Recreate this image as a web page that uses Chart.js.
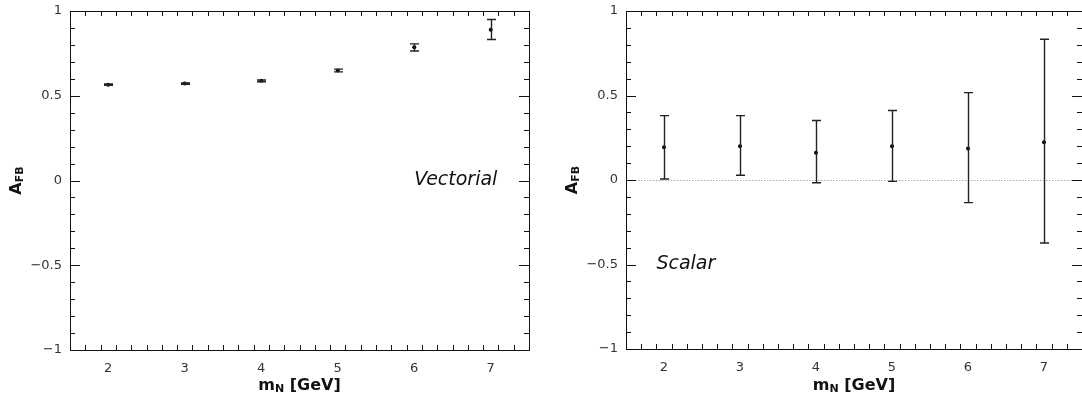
<!DOCTYPE html>
<html lang="en">
<head>
    <meta charset="UTF-8">
    <title>A_FB vs m_N</title>
    <script src="https://cdn.jsdelivr.net/npm/chart.js@4.4.0/dist/chart.umd.min.js"></script>
    <style>
        body { margin: 0; background: #fff; overflow: hidden; }
        .panel { position: absolute; top: 0; height: 403px; }
    </style>
</head>
<body>
    <div class="panel" style="left: 0; width: 541px;"><canvas id="vecChart" width="541" height="403"></canvas></div>
    <div class="panel" style="left: 541px; width: 545px;"><canvas id="scaChart" width="545" height="403"></canvas></div>

    <script>
        // data
        const masses = [2, 3, 4, 5, 6, 7];
        const xTickVals = [2, 3, 4, 5, 6, 7];
        const yTickVals = [-1, -0.5, 0, 0.5, 1];

        const vecAfb = [0.565, 0.572, 0.588, 0.649, 0.786, 0.890];
        const vecErrUp = [0.004, 0.004, 0.005, 0.008, 0.020, 0.060];
        const vecErrDown = [0.004, 0.004, 0.005, 0.008, 0.022, 0.058];

        const scaAfb = [0.194, 0.200, 0.161, 0.200, 0.187, 0.224];
        const scaErrUp = [0.187, 0.181, 0.191, 0.211, 0.330, 0.609];
        const scaErrDown = [0.188, 0.172, 0.177, 0.208, 0.321, 0.597];

        const FONT = '"DejaVu Sans", sans-serif';

        function fmt(v) {
            return v < 0 ? '\u2212' + Math.abs(v) : String(v);
        }

        // frame with inward ticks on all four sides
        const framePlugin = {
            id: 'frame',
            afterDraw(chart) {
                const ctx = chart.ctx, a = chart.chartArea;
                const xs = chart.scales.x, ys = chart.scales.y;
                ctx.save();
                ctx.strokeStyle = '#111';
                ctx.lineWidth = 1;
                ctx.beginPath();
                for (let i = 0; i <= 30; i++) {
                    const v = 1.5 + i * 0.2;
                    if (v <= 1.5 || v >= 7.5) continue;
                    const major = Math.abs(v - Math.round(v)) < 1e-6;
                    const len = major ? 10 : 5;
                    const px = Math.round(xs.getPixelForValue(v)) + 0.5;
                    ctx.moveTo(px, a.bottom); ctx.lineTo(px, a.bottom - len);
                    ctx.moveTo(px, a.top); ctx.lineTo(px, a.top + len);
                }
                for (let i = 1; i < 20; i++) {
                    const v = -1 + i * 0.1;
                    const major = i % 5 === 0;
                    const len = major ? 10 : 5;
                    const py = Math.round(ys.getPixelForValue(v)) + 0.5;
                    ctx.moveTo(a.left, py); ctx.lineTo(a.left + len, py);
                    ctx.moveTo(a.right, py); ctx.lineTo(a.right - len, py);
                }
                ctx.stroke();
                ctx.strokeRect(Math.round(a.left) + 0.5, Math.round(a.top) + 0.5,
                    Math.round(a.right - a.left), Math.round(a.bottom - a.top));

                // axis titles with subscripts
                ctx.fillStyle = '#111';
                ctx.textBaseline = 'middle';
                drawSub(ctx, 'm', 'N', ' [GeV]', (a.left + a.right) / 2, 386);
                ctx.translate(a.left - 53, (a.top + a.bottom) / 2);
                ctx.rotate(-Math.PI / 2);
                drawSub(ctx, 'A', 'FB', '', 0, 0);
                ctx.restore();

                // annotation
                const note = chart.options.plugins.note;
                ctx.save();
                ctx.font = 'italic 19px ' + FONT;
                ctx.fillStyle = '#111';
                ctx.textBaseline = 'middle';
                ctx.textAlign = 'left';
                ctx.fillText(note.text, xs.getPixelForValue(note.x), ys.getPixelForValue(note.y));
                ctx.restore();
            }
        };

        function drawSub(ctx, main, sub, rest, cx, cy) {
            const big = 'bold 16px ' + FONT, small = 'bold 11px ' + FONT;
            ctx.font = big;
            const w1 = ctx.measureText(main).width, w3 = ctx.measureText(rest).width;
            ctx.font = small;
            const w2 = ctx.measureText(sub).width;
            let x = cx - (w1 + w2 + w3) / 2;
            ctx.textAlign = 'left';
            ctx.font = big; ctx.fillText(main, x, cy); x += w1;
            ctx.font = small; ctx.fillText(sub, x, cy + 3); x += w2;
            ctx.font = big; ctx.fillText(rest, x, cy);
        }

        const errorPlugin = {
            id: 'errbars',
            beforeDatasetsDraw(chart) {
                if (!chart.options.plugins.zeroLine) return;
                const ctx = chart.ctx, a = chart.chartArea;
                const py = Math.round(chart.scales.y.getPixelForValue(0)) + 0.5;
                ctx.save();
                ctx.strokeStyle = '#aaa';
                ctx.lineWidth = 1;
                ctx.setLineDash([1.5, 1.5]);
                ctx.beginPath();
                ctx.moveTo(a.left, py); ctx.lineTo(a.right, py);
                ctx.stroke();
                ctx.restore();
            },
            afterDatasetsDraw(chart) {
                const e = chart.options.plugins.err;
                const ctx = chart.ctx, xs = chart.scales.x, ys = chart.scales.y;
                ctx.save();
                ctx.strokeStyle = '#222';
                ctx.lineWidth = 1.4;
                ctx.beginPath();
                e.x.forEach(function (m, i) {
                    const px = Math.round(xs.getPixelForValue(m)) + 0.5;
                    const top = ys.getPixelForValue(e.y[i] + e.up[i]);
                    const bot = ys.getPixelForValue(e.y[i] - e.down[i]);
                    ctx.moveTo(px, top); ctx.lineTo(px, bot);
                    ctx.moveTo(px - 4.5, top); ctx.lineTo(px + 4.5, top);
                    ctx.moveTo(px - 4.5, bot); ctx.lineTo(px + 4.5, bot);
                });
                ctx.stroke();
                ctx.restore();
            }
        };

        function makeChart(id, vals, up, down, area, note, zeroLine) {
            const ctx = document.getElementById(id).getContext('2d');
            return new Chart(ctx, {
                type: 'scatter',
                data: {
                    datasets: [{
                        data: masses.map(function (m, i) { return { x: m, y: vals[i] }; }),
                        pointRadius: 2,
                        pointBackgroundColor: '#000',
                        pointBorderWidth: 0,
                        showLine: false
                    }]
                },
                options: {
                    responsive: false,
                    animation: false,
                    devicePixelRatio: 1,
                    layout: { padding: { left: 0, top: area.top, right: area.right, bottom: 0 } },
                    plugins: {
                        legend: { display: false },
                        tooltip: { enabled: false },
                        err: { x: masses, y: vals, up: up, down: down },
                        note: note,
                        zeroLine: zeroLine
                    },
                    scales: {
                        x: {
                            type: 'linear',
                            min: 1.5,
                            max: 7.5,
                            grid: { display: false, drawTicks: false },
                            border: { display: false },
                            ticks: { font: { family: FONT, size: 13 }, color: '#333', padding: 11 },
                            afterBuildTicks: function (s) { s.ticks = xTickVals.map(function (v) { return { value: v }; }); },
                            afterFit: function (s) {
                                s.height = area.xH;
                                s.paddingLeft = 0; s.paddingRight = 0;
                            }
                        },
                        y: {
                            min: -1,
                            max: 1,
                            grid: { display: false, drawTicks: false },
                            border: { display: false },
                            ticks: {
                                font: { family: FONT, size: 13 }, color: '#333', padding: 8,
                                callback: function (v) { return fmt(v); }
                            },
                            afterBuildTicks: function (s) { s.ticks = yTickVals.map(function (v) { return { value: v }; }); },
                            afterFit: function (s) {
                                s.width = area.yW;
                                s.paddingTop = 0; s.paddingBottom = 0;
                            }
                        }
                    }
                },
                plugins: [errorPlugin, framePlugin]
            });
        }

        makeChart('vecChart', vecAfb, vecErrUp, vecErrDown,
            { top: 11, right: 12, xH: 53, yW: 70 },
            { text: 'Vectorial', x: 6.0, y: 0 }, false);

        makeChart('scaChart', scaAfb, scaErrUp, scaErrDown,
            { top: 11, right: 2, xH: 54, yW: 85 },
            { text: 'Scalar', x: 1.9, y: -0.5 }, true);
    </script>
</body>
</html>
